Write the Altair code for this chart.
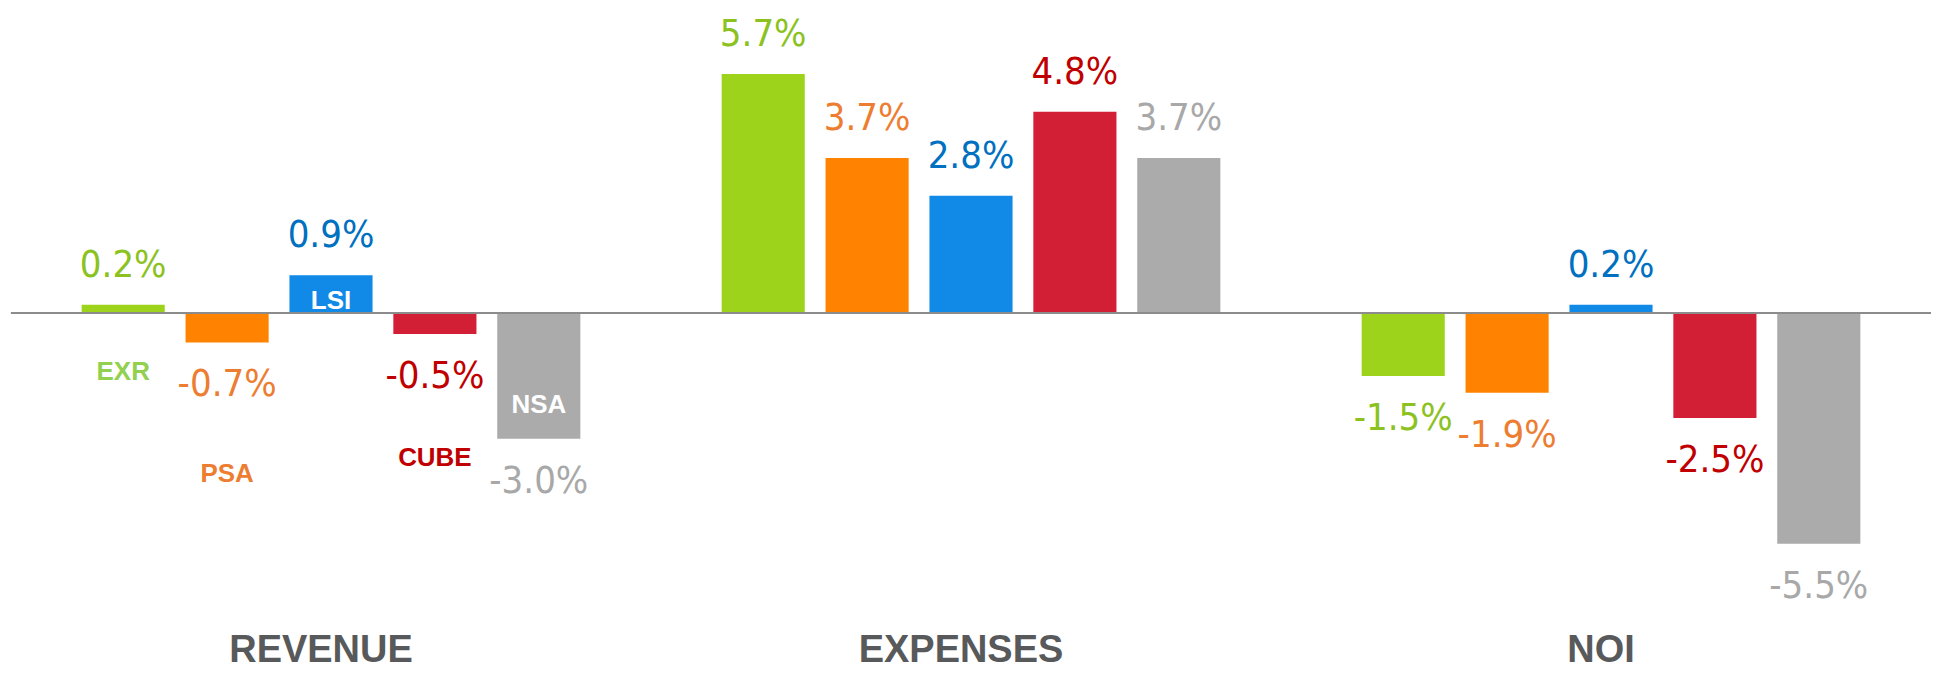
import altair as alt
import pandas as pd

groups = ["REVENUE", "EXPENSES", "NOI"]
companies = ["EXR", "PSA", "LSI", "CUBE", "NSA"]
revenue = [0.2, -0.7, 0.9, -0.5, -3.0]
expenses = [5.7, 3.7, 2.8, 4.8, 3.7]
noi = [-1.5, -1.9, 0.2, -2.5, -5.5]

bar_colors = ["#9ed31b", "#ff8300", "#108ae6", "#d21f36", "#ababab"]
value_colors = ["#8cc21f", "#ed7d31", "#0070c0", "#c00000", "#a8a8a8"]
name_colors = ["#92d050", "#ed7d31", "#ffffff", "#c00000", "#ffffff"]
# where the company names sit in the REVENUE group (value units)
name_anchor = [-1.6, -4.02, 0.1, -3.64, -2.38]

rows = []
for g, vals in zip(groups, [revenue, expenses, noi]):
    for c, v in zip(companies, vals):
        rows.append({"group": g, "company": c, "value": v, "label": f"{v:.1f}%"})
df = pd.DataFrame(rows)
names = pd.DataFrame({"group": "REVENUE", "company": companies, "anchor": name_anchor})

PX = 42.0
ymax = 305 / PX
ymin = -6.5
H = round((ymax - ymin) * PX)

narrow = "'Liberation Sans Narrow', 'DejaVu Sans Condensed', 'Roboto Condensed', 'Liberation Sans', sans-serif"
sans = "'Liberation Sans', Arial, sans-serif"

x = alt.X(
    "group:N", sort=groups,
    scale=alt.Scale(paddingInner=0, paddingOuter=0),
    axis=alt.Axis(title=None, domain=False, ticks=False, tickSize=0, labelAngle=0,
                  labelFontSize=38, labelFontWeight="bold", labelColor="#58595b",
                  labelFont=sans, labelPadding=76, labelBaseline="alphabetic",
                  labelLimit=0, labelOffset=-10),
)
xo = alt.XOffset("company:N", sort=companies,
                 scale=alt.Scale(paddingInner=0.2, paddingOuter=0.68))
yscale = alt.Scale(domain=[ymin, ymax], nice=False, zero=False)
y = alt.Y("value:Q", scale=yscale, axis=None)

base = alt.Chart(df)

bars = base.mark_bar().encode(
    x=x, xOffset=xo, y=y, y2=alt.datum(0),
    color=alt.Color("company:N", scale=alt.Scale(domain=companies, range=bar_colors), legend=None),
)

vcolor = alt.Color("company:N", scale=alt.Scale(domain=companies, range=value_colors), legend=None)

pos_text = base.transform_filter("datum.value >= 0").mark_text(
    font=narrow, fontSize=38, baseline="alphabetic", dy=-28
).encode(x=x, xOffset=xo, y=y, text="label:N", color=vcolor)

neg_text = base.transform_filter("datum.value < 0").mark_text(
    font=narrow, fontSize=38, baseline="alphabetic", dy=54
).encode(x=x, xOffset=xo, y=y, text="label:N", color=vcolor)

name_text = alt.Chart(names).mark_text(
    font=sans, fontSize=26, fontWeight="bold", baseline="alphabetic"
).encode(
    x=x, xOffset=xo,
    y=alt.Y("anchor:Q", scale=yscale, axis=None),
    text="company:N",
    color=alt.Color("company:N", scale=alt.Scale(domain=companies, range=name_colors), legend=None),
)

rule = alt.Chart(df).mark_rule(color="#8c8c8c", strokeWidth=2).encode(y=alt.datum(0))

chart = alt.layer(bars, pos_text, neg_text, name_text, rule).resolve_scale(
    color="independent"
).properties(
    width=1923, height=H,
    autosize=alt.AutoSizeParams(type="none"),
    padding={"left": 3, "top": 0, "right": 0, "bottom": 86},
).configure_view(stroke=None)

chart.save("out.html", embed_options={"renderer": "svg", "actions": False})
